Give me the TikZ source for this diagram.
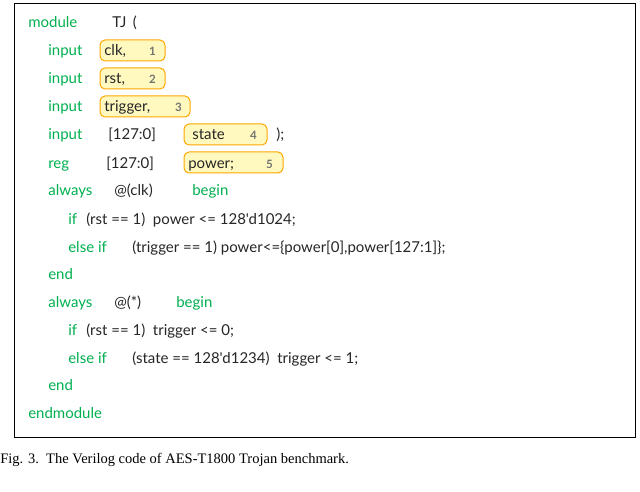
\documentclass[tikz,border=0pt]{standalone}
\usepackage{fontspec}
\setmainfont{Liberation Serif}
\newfontfamily\codef{Lato}
\begin{document}
\begin{tikzpicture}[x=1pt,y=-1pt]
\definecolor{cg}{RGB}{0,176,80}
\tikzset{
  kw/.style={text=cg,font=\codef,anchor=base west,inner sep=0,scale=1.5},
  tx/.style={text=black!85,font=\codef,anchor=base west,inner sep=0,scale=1.5},
  pill/.style={draw=orange!70!yellow,line width=1pt,fill=orange!20!yellow!25,rounded corners=5pt},
  num/.style={text=black!55,font=\codef\bfseries,anchor=base west,inner sep=0,scale=1.15}}
\useasboundingbox (0,0) rectangle (640,492);
\draw[line width=0.8pt] (14,3) rectangle (635,437);
\draw[pill] (100,40) rectangle (165,61);
\draw[pill] (100,68) rectangle (165,89);
\draw[pill] (100,96) rectangle (190,117);
\draw[pill] (184,124) rectangle (267,145);
\draw[pill] (184,152) rectangle (283,173);
\node[kw] (m) at (28,28) {module};
\node[tx] (tj) at (112,28) {TJ \,(};
\node[kw] (i1) at (48,56) {input};
\node[tx] (c1) at (104,56) {clk,};
\node[num] (n1) at (149,56) {1};
\node[kw] (i2) at (48,84) {input};
\node[tx] (c2) at (104,84) {rst,};
\node[num] (n2) at (149,84) {2};
\node[kw] (i3) at (48,112) {input};
\node[tx] (c3) at (104,112) {trigger,};
\node[num] (n3) at (175,112) {3};
\node[kw] (i4) at (48,140) {input};
\node[tx] (b4) at (108,140) {[127:0]};
\node[tx] (c4) at (192,140) {state};
\node[num] (n4) at (250,140) {4};
\node[tx] (e4) at (276,140) {);};
\node[kw] (r5) at (48,168) {reg};
\node[tx] (b5) at (106,168) {[127:0]};
\node[tx] (c5) at (188,168) {power;};
\node[num] (n5) at (266,168) {5};
\node[kw] (a1) at (48,196) {always};
\node[tx] (a1b) at (114,196) {@(clk)};
\node[kw] (a1c) at (192,196) {begin};
\node[kw] (f1) at (68,224) {if};
\node[tx] (f1b) at (86,224) {(rst == 1) \ power <= 128'd1024;};
\node[kw] (g1) at (68,252) {else if};
\node[tx] (g1b) at (132,252) {(trigger == 1) power<=\{power[0],power[127:1]\};};
\node[kw] (e1) at (48,279) {end};
\node[kw] (a2) at (48,307) {always};
\node[tx] (a2b) at (114,307) {@(*)};
\node[kw] (a2c) at (176,307) {begin};
\node[kw] (f2) at (68,335) {if};
\node[tx] (f2b) at (86,335) {(rst == 1) \ trigger <= 0;};
\node[kw] (g2) at (68,363) {else if};
\node[tx] (g2b) at (132,363) {(state == 128'd1234) \ trigger <= 1;};
\node[kw] (e2) at (48,390) {end};
\node[kw] (em) at (28,418) {endmodule};
\node[anchor=base west,inner sep=0,scale=1.45] (cap) at (0,463) {Fig. 3.\ \ The Verilog code of AES-T1800 Trojan benchmark.};
\end{tikzpicture}
\end{document}
